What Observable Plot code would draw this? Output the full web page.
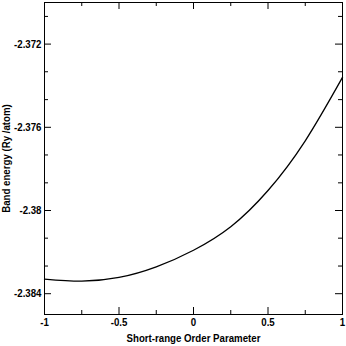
<!DOCTYPE html>
<html>
<head>
<meta charset="utf-8">
<script src="https://cdn.jsdelivr.net/npm/d3@7"></script>
<script src="https://cdn.jsdelivr.net/npm/@observablehq/plot@0.6"></script>
<style>
  html, body { margin: 0; padding: 0; background: #fff; }
  #chart svg { display: block; }
</style>
</head>
<body>
<div id="chart"></div>
<script>
const orderParam = [-1, -0.75, -0.5, -0.25, 0, 0.25, 0.5, 0.75, 1];
const bandEnergy = [-2.38330, -2.38340, -2.38322, -2.38271, -2.38191, -2.38078, -2.37904, -2.37665, -2.37360];

const xMajorTicks = [-1, -0.5, 0, 0.5, 1];
const xMinorTicks = [-0.75, -0.25, 0.25, 0.75];
const yMajorTicks = [-2.384, -2.38, -2.376, -2.372];
const yMinorTicks = [-2.38267, -2.38133, -2.37867, -2.37733, -2.37467, -2.37333, -2.37067];

const data = orderParam.map((x, i) => ({x, y: bandEnergy[i]}));

const W = 346, H = 346;
const mL = 44, mR = 4, mT = 2, mB = 32;
const innerW = W - mL - mR, innerH = H - mT - mB;
const majorLen = 7, minorLen = 4;
const font = "'Liberation Sans', Arial, Helvetica, sans-serif";

const chart = Plot.plot({
  width: W,
  height: H,
  marginLeft: mL,
  marginRight: mR,
  marginTop: mT,
  marginBottom: mB,
  style: {fontFamily: font, fontSize: "11px", fontWeight: "bold", color: "#000", background: "#fff"},
  x: {domain: [-1, 1]},
  y: {domain: [-2.385, -2.370]},
  marks: [
    Plot.frame({stroke: "#000", strokeWidth: 1}),
    Plot.tickY(yMajorTicks, {y: d => d, stroke: "#000", insetRight: innerW - majorLen}),
    Plot.tickY(yMajorTicks, {y: d => d, stroke: "#000", insetLeft: innerW - majorLen}),
    Plot.tickY(yMinorTicks, {y: d => d, stroke: "#000", insetRight: innerW - minorLen}),
    Plot.tickY(yMinorTicks, {y: d => d, stroke: "#000", insetLeft: innerW - minorLen}),
    Plot.tickX(xMajorTicks, {x: d => d, stroke: "#000", insetTop: innerH - majorLen}),
    Plot.tickX(xMajorTicks, {x: d => d, stroke: "#000", insetBottom: innerH - majorLen}),
    Plot.tickX(xMinorTicks, {x: d => d, stroke: "#000", insetTop: innerH - minorLen}),
    Plot.tickX(xMinorTicks, {x: d => d, stroke: "#000", insetBottom: innerH - minorLen}),
    Plot.axisX({
      ticks: xMajorTicks, tickSize: 0, tickPadding: 4,
      tickFormat: d => String(d),
      label: "Short-range Order Parameter", labelAnchor: "center", labelArrow: "none", labelOffset: 27,
      fontWeight: "bold"
    }),
    Plot.axisY({
      ticks: yMajorTicks, tickSize: 0, tickPadding: 3,
      tickFormat: d => String(d),
      label: "Band energy (Ry /atom)", labelAnchor: "center", labelArrow: "none", labelOffset: 42,
      fontWeight: "bold"
    }),
    Plot.line(data, {x: "x", y: "y", stroke: "#000", strokeWidth: 1.3, curve: "natural"})
  ]
});
document.getElementById("chart").appendChild(chart);
// condense the glyphs like the narrow Helvetica of the original
chart.querySelectorAll("text").forEach(t => {
  const len = t.getComputedTextLength();
  if (len > 0) {
    t.setAttribute("textLength", (len * 0.88).toFixed(2));
    t.setAttribute("lengthAdjust", "spacingAndGlyphs");
  }
});
</script>
</body>
</html>
